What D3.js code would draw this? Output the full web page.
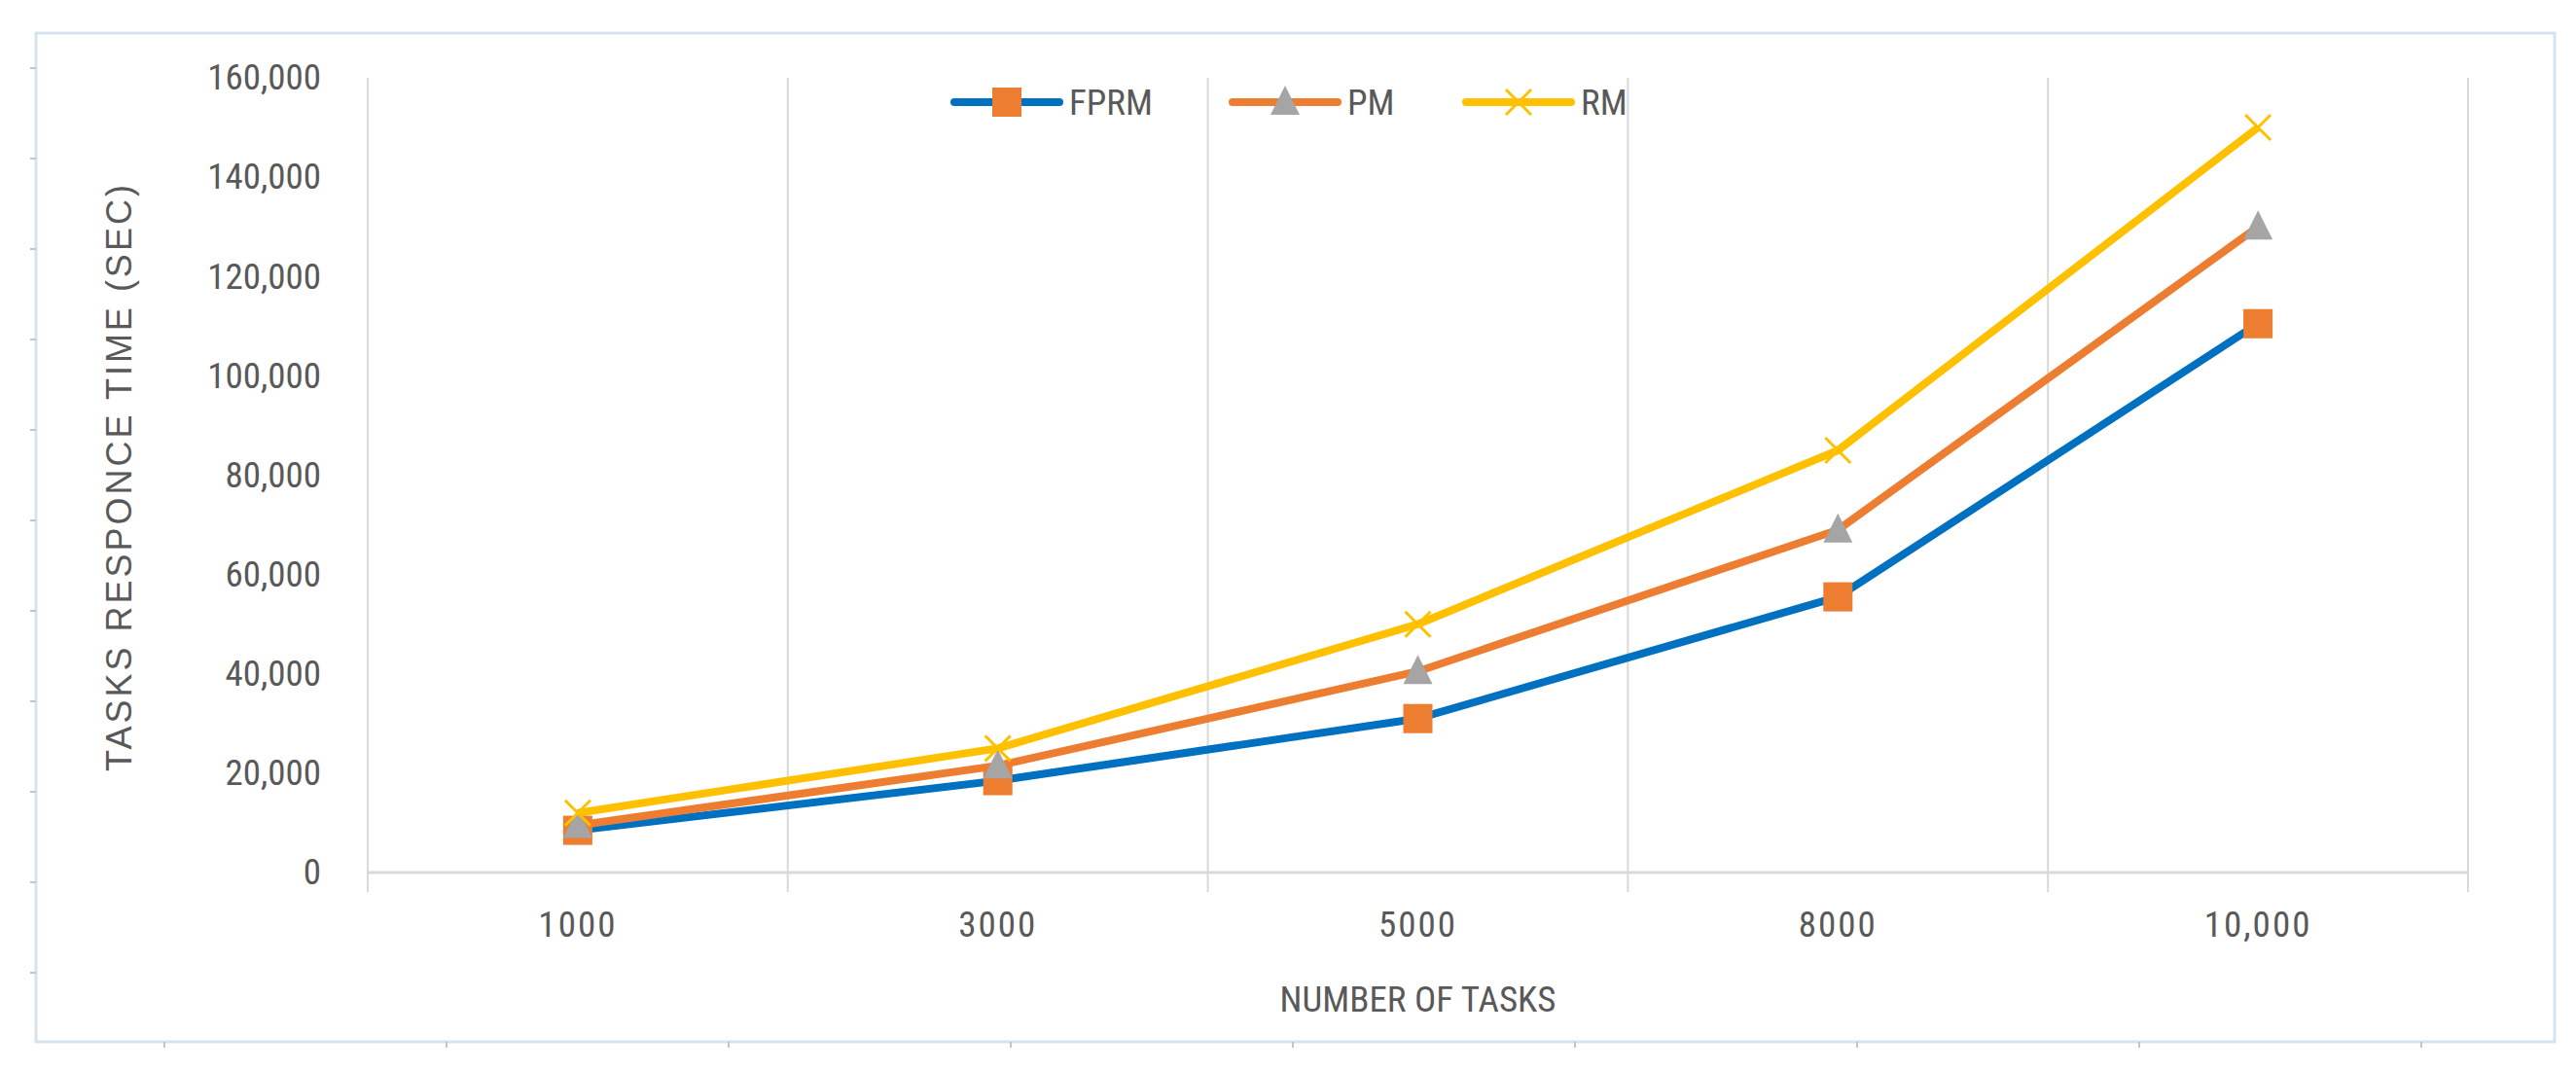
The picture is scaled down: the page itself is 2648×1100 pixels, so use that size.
<!DOCTYPE html>
<html><head><meta charset="utf-8">
<script src="https://cdn.jsdelivr.net/npm/d3@7"></script>
<style>body{margin:0;background:#fff}svg{display:block}text{font-family:"Liberation Sans Narrow","Roboto Condensed","Liberation Sans",Arial,sans-serif;fill:#595959}</style>
</head><body><svg id="c" width="2648" height="1100"></svg>
<script>
const categories = ["1000","3000","5000","8000","10,000"];
const fprm = [8500, 18500, 31000, 55500, 110500];
const pm = [9500, 21500, 40500, 69000, 130000];
const rm = [12000, 25000, 50000, 85000, 150000];
const yTicks = [0,20000,40000,60000,80000,100000,120000,140000,160000];
const seriesNames = ["FPRM","PM","RM"];

const svg = d3.select("#c");
const L=378,R=2537,T=80,B=897;
// border
svg.append("rect").attr("x",37).attr("y",34).attr("width",2589).attr("height",1037).attr("fill","none").attr("stroke","#d5e3f0").attr("stroke-width",3);
for(let i=0;i<11;i++) svg.append("line").attr("x1",31).attr("x2",37).attr("y1",70+i*93).attr("y2",70+i*93).attr("stroke","#b8c8d8").attr("stroke-width",2);
for(let i=0;i<9;i++) svg.append("line").attr("x1",169+i*290).attr("x2",169+i*290).attr("y1",1071).attr("y2",1077).attr("stroke","#b8c8d8").attr("stroke-width",2);

const x = d3.scaleBand().domain(categories).range([L,R]);
const y = d3.scaleLinear().domain([0,160000]).range([B,T]);
// vertical grid
const bounds = categories.map(c=>x(c)).concat([R]);
svg.selectAll(".vg").data(bounds).enter().append("line").attr("x1",d=>d).attr("x2",d=>d).attr("y1",T).attr("y2",B+20).attr("stroke","#d9d9d9").attr("stroke-width",2);
svg.append("line").attr("x1",L).attr("x2",R).attr("y1",B).attr("y2",B).attr("stroke","#d9d9d9").attr("stroke-width",3);

const ya = svg.append("g").attr("transform",`translate(${L-45},0)`).call(d3.axisLeft(y).tickValues(yTicks).tickSize(0).tickFormat(d3.format(",")));
ya.select(".domain").remove();
ya.selectAll("text").attr("font-size",37).style("fill","#595959");
const xa = svg.append("g").attr("transform",`translate(0,${B+30})`).call(d3.axisBottom(x).tickSize(0));
xa.select(".domain").remove();
xa.selectAll("text").attr("font-size",37).attr("dy","0.9em").style("fill","#595959").style("letter-spacing","2px");

svg.append("text").attr("x",(L+R)/2).attr("y",1040).attr("text-anchor","middle").attr("font-size",37).text("NUMBER OF TASKS");
svg.append("text").attr("transform","translate(135,490) rotate(-90)").attr("text-anchor","middle").attr("font-size",36).style("letter-spacing","3px").style("font-family","'Liberation Sans',Arial").text("TASKS RESPONCE TIME (SEC)");

const colors=["#0070c0","#ed7d31","#ffc000"];
const data=[fprm,pm,rm];
const line=d3.line().x((d,i)=>x(categories[i])+x.bandwidth()/2).y(d=>y(d));
function marker(g,type,cx,cy){
  if(type===0) g.append("rect").attr("x",cx-15).attr("y",cy-15).attr("width",30).attr("height",30).attr("fill","#ed7d31");
  else if(type===1) g.append("path").attr("d",`M${cx},${cy-17}L${cx+15},${cy+13}L${cx-15},${cy+13}Z`).attr("fill","#a5a5a5");
  else g.append("path").attr("d",`M${cx-13},${cy-13}L${cx+13},${cy+13}M${cx+13},${cy-13}L${cx-13},${cy+13}`).attr("stroke","#ffc000").attr("stroke-width",3);
}
data.forEach((s,k)=>{
  svg.append("path").datum(s).attr("d",line).attr("fill","none").attr("stroke",colors[k]).attr("stroke-width",8).attr("stroke-linejoin","round");
});
data.forEach((s,k)=>{
  const g=svg.append("g");
  s.forEach((v,i)=>marker(g,k,x(categories[i])+x.bandwidth()/2,y(v)));
});
// legend
const lx=[981,1267,1507];
seriesNames.forEach((n,k)=>{
  svg.append("line").attr("x1",lx[k]).attr("x2",lx[k]+108).attr("y1",105).attr("y2",105).attr("stroke",colors[k]).attr("stroke-width",8).attr("stroke-linecap","round");
  marker(svg,k,lx[k]+54,105);
  svg.append("text").attr("x",lx[k]+118).attr("y",105).attr("dy","0.35em").attr("font-size",37).text(n);
});
</script></body></html>
